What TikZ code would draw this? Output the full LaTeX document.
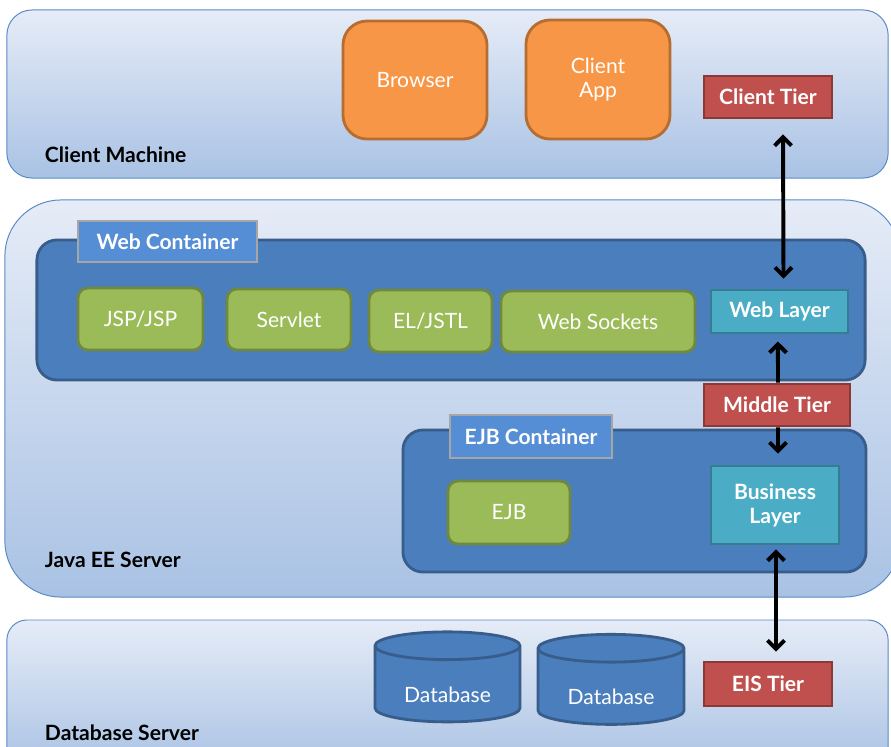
\documentclass[tikz,border=0pt]{standalone}
\usepackage{fontspec}
\setmainfont{Lato}
\usetikzlibrary{shapes.geometric,arrows.meta,positioning}
\definecolor{panelTop}{HTML}{E6ECF7}
\definecolor{panelBot}{HTML}{A9C2E4}
\definecolor{panelLine}{HTML}{5A8AC6}
\definecolor{contFill}{HTML}{4A7EBD}
\definecolor{contLine}{HTML}{385D8A}
\definecolor{tagFill}{HTML}{558ED5}
\definecolor{tagLine}{HTML}{A6A6A6}
\definecolor{greenFill}{HTML}{9BBB59}
\definecolor{greenLine}{HTML}{71893F}
\definecolor{orangeFill}{HTML}{F79646}
\definecolor{orangeLine}{HTML}{B66D31}
\definecolor{redFill}{HTML}{C0504D}
\definecolor{redLine}{HTML}{8C3836}
\definecolor{tealFill}{HTML}{4BACC6}
\definecolor{tealLine}{HTML}{357D91}

\begin{document}
\begin{tikzpicture}[x=0.025cm, y=-0.025cm,
    font=\fontsize{15}{17}\selectfont,
    panel/.style={draw=panelLine, line width=0.7pt, top color=panelTop, bottom color=panelBot, inner sep=0pt},
    panelname/.style={anchor=west, font=\fontsize{15}{17}\selectfont\bfseries},
    container/.style={draw=contLine, line width=2pt, fill=contFill, rounded corners=0.5cm, inner sep=0pt},
    tag/.style={draw=tagLine, line width=2pt, fill=tagFill, text=white, font=\fontsize{15}{17}\selectfont\bfseries, inner sep=0pt},
    comp/.style={draw=greenLine, line width=2pt, fill=greenFill, text=white, rounded corners=0.25cm, inner sep=0pt},
    client/.style={draw=orangeLine, line width=2pt, fill=orangeFill, text=white, rounded corners=0.6cm, inner sep=0pt, align=center},
    tier/.style={draw=redLine, line width=2pt, fill=redFill, text=white, font=\fontsize{15}{17}\selectfont\bfseries, inner sep=0pt},
    layer/.style={draw=tealLine, line width=2pt, fill=tealFill, text=white, font=\fontsize{15}{17}\selectfont\bfseries, inner sep=0pt, align=center},
    db/.style={cylinder, shape border rotate=90, aspect=0.32, draw=contLine, line width=2pt, fill=contFill, text=white, inner sep=0pt},
    link/.style={line width=2.8pt, {Straight Barb[length=6pt,width=12pt]}-{Straight Barb[length=6pt,width=12pt]}},
    uplink/.style={line width=2.8pt, -{Straight Barb[length=6pt,width=12pt]}}]
  \useasboundingbox (0,0) rectangle (891,746);
  \clip (0,0) rectangle (891,746);

  % client machine
  \node[panel, rounded corners=0.625cm, minimum width=22.025cm, minimum height=4.2cm] (clientm) at (447.5,94) {};
  \node[panelname] (clientmname) at (40,155) {Client Machine};
  \node[client, minimum width=3.6cm, minimum height=2.95cm] (browser) at (415,80) {Browser};
  \node[client, minimum width=3.6cm, minimum height=2.975cm] (clientapp) at (598,79.5) {Client\\App};
  \node[tier, minimum width=3.2cm, minimum height=1.05cm] (clienttier) at (768,97) {Client Tier};

  % java ee server
  \node[panel, rounded corners=1.4cm, minimum width=22.375cm, minimum height=9.925cm] (javaee) at (452.5,398.5) {};
  \node[panelname] (javaeename) at (40,560) {Java EE Server};
  \node[container, minimum width=20.7cm, minimum height=3.5cm] (webcont) at (451,310) {};
  \node[tag, minimum width=4.475cm, minimum height=1.025cm] (webtag) at (167.5,241.5) {Web Container};
  \node[comp, minimum width=3.125cm, minimum height=1.55cm] (jsp) at (140.5,319) {JSP/JSP};
  \node[comp, minimum width=3.1cm, minimum height=1.525cm] (servlet) at (289,319.5) {Servlet};
  \node[comp, minimum width=3.075cm, minimum height=1.55cm] (eljstl) at (430.5,321) {EL/JSTL};
  \node[comp, minimum width=4.85cm, minimum height=1.525cm] (sockets) at (598,321.5) {Web Sockets};
  \node[layer, minimum width=3.425cm, minimum height=1.075cm] (weblayer) at (779.5,311.5) {Web Layer};
  \node[tier, minimum width=3.65cm, minimum height=1.05cm] (middletier) at (777,405) {Middle Tier};
  \node[container, minimum width=11.575cm, minimum height=3.55cm] (ejbcont) at (634.5,501) {};
  \node[tag, minimum width=4.05cm, minimum height=1.075cm] (ejbtag) at (531,436.5) {EJB Container};
  \node[comp, minimum width=3.05cm, minimum height=1.575cm] (ejb) at (509,512.5) {EJB};
  \node[layer, minimum width=3.2cm, minimum height=1.95cm] (business) at (775,505) {Business\\Layer};

  % database server
  \node[panel, rounded corners=0.5cm, minimum width=22.025cm, minimum height=3.75cm] (dbserver) at (447.5,695) {};
  \node[panelname] (dbservername) at (40,733) {Database Server};
  \node[db, minimum width=3.625cm, minimum height=2.25cm] (dbone) at (447.5,684.5) {\raisebox{-0.44cm}[0pt][0pt]{Database}};
  \node[db, minimum width=3.65cm, minimum height=2.25cm] (dbtwo) at (611,687) {\raisebox{-0.44cm}[0pt][0pt]{Database}};
  \node[tier, minimum width=3.2cm, minimum height=1.1cm] (eistier) at (768,684) {EIS Tier};

  % tiers
  \draw[link] ([xshift=0.375cm,yshift=-0.375cm]clienttier.south) -- ([xshift=0.1cm,yshift=0.25cm]weblayer.north);
  \draw[uplink] ([xshift=0.025cm]middletier.north) -- ([xshift=-0.04cm,yshift=-0.175cm]weblayer.south);
  \draw[uplink] ([xshift=0.025cm]middletier.south) -- ([xshift=0.075cm,yshift=0.275cm]business.north);
  \draw[link] ([xshift=0.025cm,yshift=-0.1cm]business.south) -- ([xshift=0.2cm,yshift=0.225cm]eistier.north);
\end{tikzpicture}
\end{document}
